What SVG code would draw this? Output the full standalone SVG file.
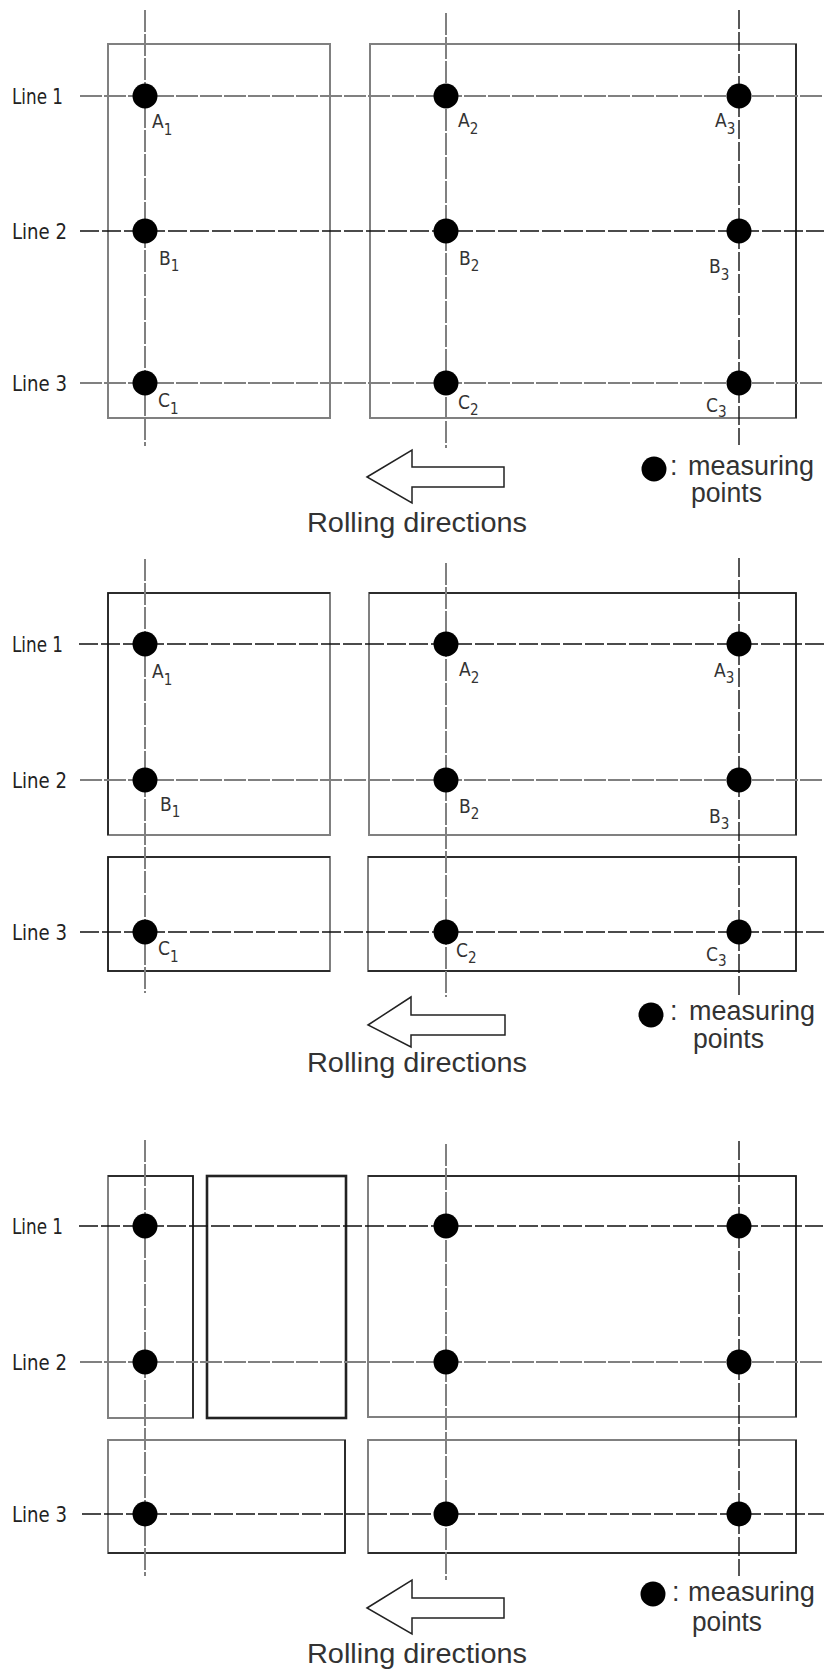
<svg xmlns="http://www.w3.org/2000/svg" width="827" height="1672" viewBox="0 0 827 1672">
<style>
.g{stroke:#808080;stroke-width:2;fill:none}
.gd{stroke:#808080;stroke-width:2;fill:none;stroke-dasharray:22 2}
.k{stroke:#111;stroke-width:1.5;fill:none}
.kd{stroke:#111;stroke-width:1.4;fill:none;stroke-dasharray:19 3}
.thick{stroke:#222;stroke-width:2.6;fill:none}
.dot{fill:#000}
.ln{font-family:"DejaVu Sans Condensed","DejaVu Sans",sans-serif;font-size:21px;fill:#222}
.lb{font-family:"DejaVu Sans Condensed","DejaVu Sans",sans-serif;font-size:19px;fill:#333}
.sub{font-size:15px}
.tx{font-family:"Liberation Sans",Arial,sans-serif;font-size:27px;fill:#333}
.arrow{fill:#fff;stroke:#222;stroke-width:1.5}
</style>
<rect width="827" height="1672" fill="#fff"/>

<!-- ================= PANEL 1 ================= -->
<g id="panel1">
  <g id="p1-rect-left"><rect class="g" x="108" y="44" width="222" height="374"/></g>
  <g id="p1-rect-right"><rect class="g" x="370" y="44" width="426" height="374"/><line class="k" x1="796" y1="44" x2="796" y2="418"/></g>
  <g id="p1-connectors">
    <line class="gd" x1="145" y1="10" x2="145" y2="446"/>
    <line class="gd" x1="446" y1="13" x2="446" y2="448"/>
    <line class="kd" x1="739" y1="10" x2="739" y2="445"/>
    <line class="gd" x1="80" y1="96" x2="824" y2="96"/>
    <line class="kd" x1="80" y1="231" x2="824" y2="231"/>
    <line class="gd" x1="80" y1="383" x2="824" y2="383"/>
  </g>
  <g id="p1-line-labels">
    <text class="ln" x="12" y="104" textLength="51" lengthAdjust="spacingAndGlyphs">Line 1</text>
    <text class="ln" x="12" y="239" textLength="55" lengthAdjust="spacingAndGlyphs">Line 2</text>
    <text class="ln" x="12" y="391" textLength="55" lengthAdjust="spacingAndGlyphs">Line 3</text>
  </g>
  <g id="p1-points">
    <circle class="dot" cx="145" cy="96" r="12.5"/><circle class="dot" cx="446" cy="96" r="12.5"/><circle class="dot" cx="739" cy="96" r="12.5"/>
    <circle class="dot" cx="145" cy="231" r="12.5"/><circle class="dot" cx="446" cy="231" r="12.5"/><circle class="dot" cx="739" cy="231" r="12.5"/>
    <circle class="dot" cx="145" cy="383" r="12.5"/><circle class="dot" cx="446" cy="383" r="12.5"/><circle class="dot" cx="739" cy="383" r="12.5"/>
  </g>
  <g id="p1-point-labels">
    <text class="lb" x="152" y="128">A<tspan class="sub" dy="7">1</tspan></text>
    <text class="lb" x="458" y="127">A<tspan class="sub" dy="7">2</tspan></text>
    <text class="lb" x="715" y="127">A<tspan class="sub" dy="7">3</tspan></text>
    <text class="lb" x="159" y="265">B<tspan class="sub" dy="6">1</tspan></text>
    <text class="lb" x="459" y="265">B<tspan class="sub" dy="6">2</tspan></text>
    <text class="lb" x="709" y="273">B<tspan class="sub" dy="7">3</tspan></text>
    <text class="lb" x="158" y="407">C<tspan class="sub" dy="7">1</tspan></text>
    <text class="lb" x="458" y="409">C<tspan class="sub" dy="6">2</tspan></text>
    <text class="lb" x="706" y="412">C<tspan class="sub" dy="5">3</tspan></text>
  </g>
  <g id="p1-direction">
    <polygon class="arrow" points="367,477 412,450 412,467 504,467 504,487 412,487 412,503"/>
    <text class="tx" x="307" y="532" textLength="220" lengthAdjust="spacingAndGlyphs">Rolling directions</text>
  </g>
  <g id="p1-legend">
    <circle class="dot" cx="654" cy="469" r="12.5"/>
    <text class="tx" x="670" y="475">: <tspan x="688" textLength="126" lengthAdjust="spacingAndGlyphs">measuring</tspan></text>
    <text class="tx" x="691" y="502" textLength="71" lengthAdjust="spacingAndGlyphs">points</text>
  </g>
</g>

<!-- ================= PANEL 2 ================= -->
<g id="panel2">
  <g id="p2-rect-ul"><rect class="g" x="108" y="593" width="222" height="242"/><path class="k" d="M108,835 V593 H330"/></g>
  <g id="p2-rect-ur"><rect class="g" x="369" y="593" width="427" height="242"/><path class="k" d="M369,593 H796 V835"/></g>
  <g id="p2-rect-ll"><rect class="g" x="108" y="857" width="222" height="114"/><path class="k" d="M330,857 H108 V971 H330"/></g>
  <g id="p2-rect-lr"><rect class="g" x="368" y="857" width="428" height="114"/><path class="k" d="M368,857 H796 V971 H368"/></g>
  <g id="p2-connectors">
    <line class="gd" x1="145" y1="559" x2="145" y2="993"/>
    <line class="gd" x1="446" y1="563" x2="446" y2="997"/>
    <line class="kd" x1="739" y1="558" x2="739" y2="995"/>
    <line class="kd" x1="79" y1="644" x2="824" y2="644"/>
    <line class="gd" x1="80" y1="780" x2="824" y2="780"/>
    <line class="kd" x1="80" y1="932" x2="824" y2="932"/>
  </g>
  <g id="p2-line-labels">
    <text class="ln" x="12" y="652" textLength="51" lengthAdjust="spacingAndGlyphs">Line 1</text>
    <text class="ln" x="12" y="788" textLength="55" lengthAdjust="spacingAndGlyphs">Line 2</text>
    <text class="ln" x="12" y="940" textLength="55" lengthAdjust="spacingAndGlyphs">Line 3</text>
  </g>
  <g id="p2-points">
    <circle class="dot" cx="145" cy="644" r="12.5"/><circle class="dot" cx="446" cy="644" r="12.5"/><circle class="dot" cx="739" cy="644" r="12.5"/>
    <circle class="dot" cx="145" cy="780" r="12.5"/><circle class="dot" cx="446" cy="780" r="12.5"/><circle class="dot" cx="739" cy="780" r="12.5"/>
    <circle class="dot" cx="145" cy="932" r="12.5"/><circle class="dot" cx="446" cy="932" r="12.5"/><circle class="dot" cx="739" cy="932" r="12.5"/>
  </g>
  <g id="p2-point-labels">
    <text class="lb" x="152" y="678">A<tspan class="sub" dy="7">1</tspan></text>
    <text class="lb" x="459" y="676">A<tspan class="sub" dy="7">2</tspan></text>
    <text class="lb" x="714" y="677">A<tspan class="sub" dy="6">3</tspan></text>
    <text class="lb" x="160" y="811">B<tspan class="sub" dy="6">1</tspan></text>
    <text class="lb" x="459" y="813">B<tspan class="sub" dy="6">2</tspan></text>
    <text class="lb" x="709" y="823">B<tspan class="sub" dy="6">3</tspan></text>
    <text class="lb" x="158" y="955">C<tspan class="sub" dy="7">1</tspan></text>
    <text class="lb" x="456" y="957">C<tspan class="sub" dy="6">2</tspan></text>
    <text class="lb" x="706" y="961">C<tspan class="sub" dy="5">3</tspan></text>
  </g>
  <g id="p2-direction">
    <polygon class="arrow" points="368,1025 411,997 411,1015 505,1015 505,1035 411,1035 411,1047"/>
    <text class="tx" x="307" y="1072" textLength="220" lengthAdjust="spacingAndGlyphs">Rolling directions</text>
  </g>
  <g id="p2-legend">
    <circle class="dot" cx="651" cy="1015" r="12.5"/>
    <text class="tx" x="670" y="1020">: <tspan x="689" textLength="126" lengthAdjust="spacingAndGlyphs">measuring</tspan></text>
    <text class="tx" x="693" y="1048" textLength="71" lengthAdjust="spacingAndGlyphs">points</text>
  </g>
</g>

<!-- ================= PANEL 3 ================= -->
<g id="panel3">
  <g id="p3-rect-narrow"><rect class="g" x="108" y="1176" width="85" height="242"/><path class="k" d="M108,1176 H193 V1418"/></g>
  <g id="p3-rect-middle"><rect class="thick" x="207" y="1176" width="139" height="242"/></g>
  <g id="p3-rect-ur"><rect class="g" x="368" y="1176" width="428" height="241"/><path class="k" d="M368,1176 H796 V1417"/></g>
  <g id="p3-rect-ll"><rect class="g" x="108" y="1440" width="237" height="113"/><path class="k" d="M345,1440 V1553 H108"/></g>
  <g id="p3-rect-lr"><rect class="g" x="368" y="1440" width="428" height="113"/><path class="k" d="M796,1440 V1553 H368"/></g>
  <g id="p3-connectors">
    <line class="gd" x1="145" y1="1140" x2="145" y2="1576"/>
    <line class="gd" x1="446" y1="1144" x2="446" y2="1580"/>
    <line class="kd" x1="739" y1="1141" x2="739" y2="1576"/>
    <line class="kd" x1="79" y1="1226" x2="823" y2="1226"/>
    <line class="gd" x1="80" y1="1362" x2="824" y2="1362"/>
    <line class="kd" x1="82" y1="1514" x2="824" y2="1514"/>
  </g>
  <g id="p3-line-labels">
    <text class="ln" x="12" y="1234" textLength="51" lengthAdjust="spacingAndGlyphs">Line 1</text>
    <text class="ln" x="12" y="1370" textLength="55" lengthAdjust="spacingAndGlyphs">Line 2</text>
    <text class="ln" x="12" y="1522" textLength="55" lengthAdjust="spacingAndGlyphs">Line 3</text>
  </g>
  <g id="p3-points">
    <circle class="dot" cx="145" cy="1226" r="12.5"/><circle class="dot" cx="446" cy="1226" r="12.5"/><circle class="dot" cx="739" cy="1226" r="12.5"/>
    <circle class="dot" cx="145" cy="1362" r="12.5"/><circle class="dot" cx="446" cy="1362" r="12.5"/><circle class="dot" cx="739" cy="1362" r="12.5"/>
    <circle class="dot" cx="145" cy="1514" r="12.5"/><circle class="dot" cx="446" cy="1514" r="12.5"/><circle class="dot" cx="739" cy="1514" r="12.5"/>
  </g>
  <g id="p3-direction">
    <polygon class="arrow" points="367,1608 412,1580 412,1598 504,1598 504,1618 412,1618 412,1634"/>
    <text class="tx" x="307" y="1663" textLength="220" lengthAdjust="spacingAndGlyphs">Rolling directions</text>
  </g>
  <g id="p3-legend">
    <circle class="dot" cx="653" cy="1594" r="12.5"/>
    <text class="tx" x="672" y="1601">: <tspan x="688" textLength="127" lengthAdjust="spacingAndGlyphs">measuring</tspan></text>
    <text class="tx" x="692" y="1631" textLength="70" lengthAdjust="spacingAndGlyphs">points</text>
  </g>
</g>
</svg>
